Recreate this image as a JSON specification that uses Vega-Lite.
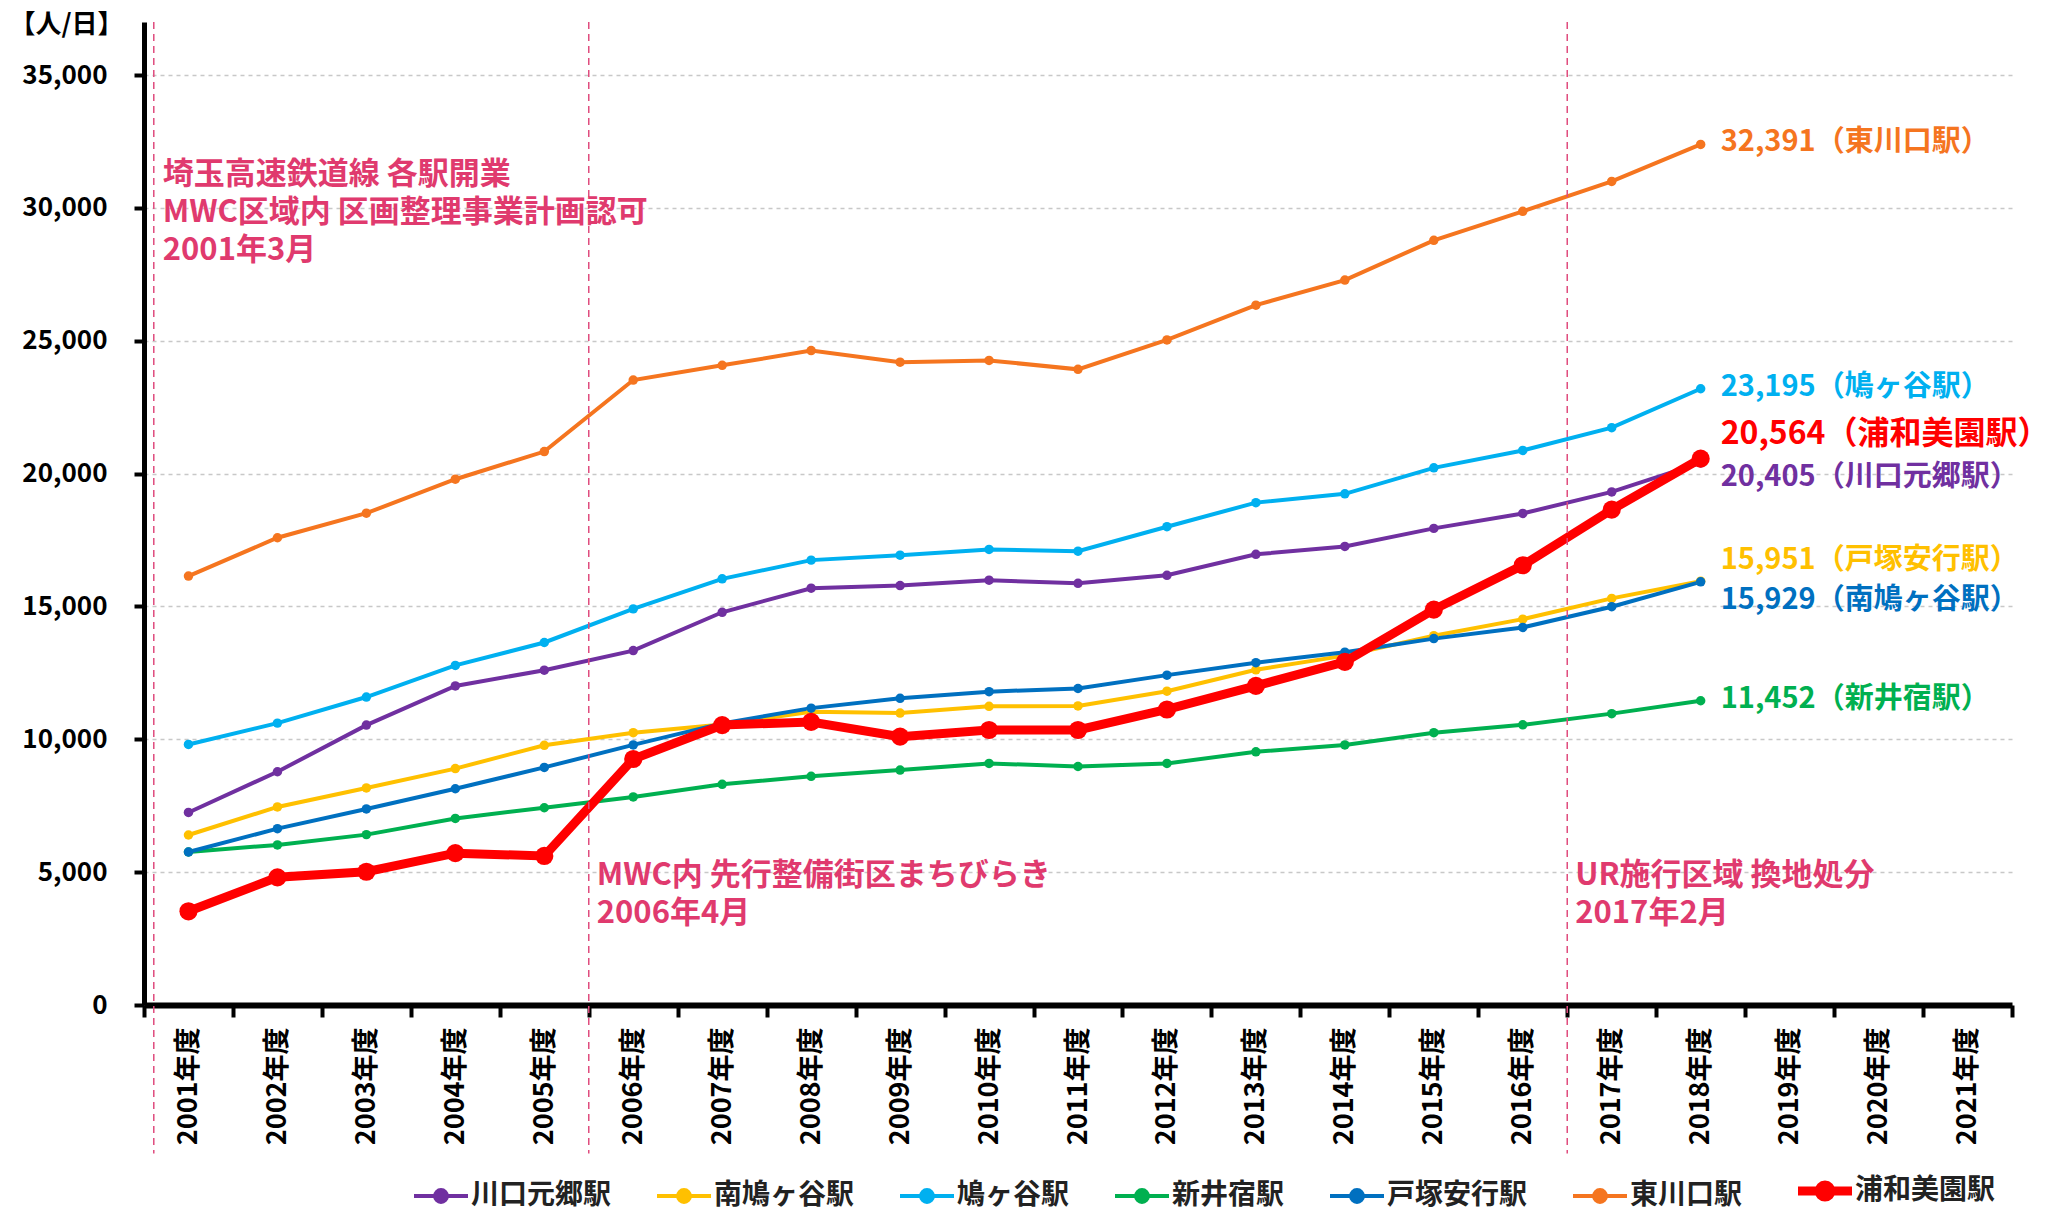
{
  "$schema": "https://vega.github.io/schema/vega-lite/v6.json",
  "width": 1868,
  "height": 983,
  "autosize": {"type": "none"},
  "padding": {"left": 144, "top": 22, "right": 39, "bottom": 209},
  "background": "white",
  "config": {"font": "Noto Sans CJK JP", "view": {"stroke": null}},
  "datasets": {
    "ridership": [
      {"station": "川口元郷駅", "year": "2001年度", "value": 7247},
      {"station": "川口元郷駅", "year": "2002年度", "value": 8779},
      {"station": "川口元郷駅", "year": "2003年度", "value": 10535},
      {"station": "川口元郷駅", "year": "2004年度", "value": 12008},
      {"station": "川口元郷駅", "year": "2005年度", "value": 12603},
      {"station": "川口元郷駅", "year": "2006年度", "value": 13340},
      {"station": "川口元郷駅", "year": "2007年度", "value": 14782},
      {"station": "川口元郷駅", "year": "2008年度", "value": 15688},
      {"station": "川口元郷駅", "year": "2009年度", "value": 15789},
      {"station": "川口元郷駅", "year": "2010年度", "value": 15990},
      {"station": "川口元郷駅", "year": "2011年度", "value": 15872},
      {"station": "川口元郷駅", "year": "2012年度", "value": 16174},
      {"station": "川口元郷駅", "year": "2013年度", "value": 16963},
      {"station": "川口元郷駅", "year": "2014年度", "value": 17260},
      {"station": "川口元郷駅", "year": "2015年度", "value": 17940},
      {"station": "川口元郷駅", "year": "2016年度", "value": 18502},
      {"station": "川口元郷駅", "year": "2017年度", "value": 19313},
      {"station": "川口元郷駅", "year": "2018年度", "value": 20405},
      {"station": "南鳩ヶ谷駅", "year": "2001年度", "value": 6398},
      {"station": "南鳩ヶ谷駅", "year": "2002年度", "value": 7455},
      {"station": "南鳩ヶ谷駅", "year": "2003年度", "value": 8169},
      {"station": "南鳩ヶ谷駅", "year": "2004年度", "value": 8898},
      {"station": "南鳩ヶ谷駅", "year": "2005年度", "value": 9776},
      {"station": "南鳩ヶ谷駅", "year": "2006年度", "value": 10250},
      {"station": "南鳩ヶ谷駅", "year": "2007年度", "value": 10560},
      {"station": "南鳩ヶ谷駅", "year": "2008年度", "value": 11040},
      {"station": "南鳩ヶ谷駅", "year": "2009年度", "value": 10990},
      {"station": "南鳩ヶ谷駅", "year": "2010年度", "value": 11242},
      {"station": "南鳩ヶ谷駅", "year": "2011年度", "value": 11258},
      {"station": "南鳩ヶ谷駅", "year": "2012年度", "value": 11812},
      {"station": "南鳩ヶ谷駅", "year": "2013年度", "value": 12617},
      {"station": "南鳩ヶ谷駅", "year": "2014年度", "value": 13150},
      {"station": "南鳩ヶ谷駅", "year": "2015年度", "value": 13900},
      {"station": "南鳩ヶ谷駅", "year": "2016年度", "value": 14524},
      {"station": "南鳩ヶ谷駅", "year": "2017年度", "value": 15304},
      {"station": "南鳩ヶ谷駅", "year": "2018年度", "value": 15951},
      {"station": "鳩ヶ谷駅", "year": "2001年度", "value": 9806},
      {"station": "鳩ヶ谷駅", "year": "2002年度", "value": 10610},
      {"station": "鳩ヶ谷駅", "year": "2003年度", "value": 11592},
      {"station": "鳩ヶ谷駅", "year": "2004年度", "value": 12782},
      {"station": "鳩ヶ谷駅", "year": "2005年度", "value": 13645},
      {"station": "鳩ヶ谷駅", "year": "2006年度", "value": 14910},
      {"station": "鳩ヶ谷駅", "year": "2007年度", "value": 16040},
      {"station": "鳩ヶ谷駅", "year": "2008年度", "value": 16745},
      {"station": "鳩ヶ谷駅", "year": "2009年度", "value": 16930},
      {"station": "鳩ヶ谷駅", "year": "2010年度", "value": 17148},
      {"station": "鳩ヶ谷駅", "year": "2011年度", "value": 17081},
      {"station": "鳩ヶ谷駅", "year": "2012年度", "value": 18003},
      {"station": "鳩ヶ谷駅", "year": "2013年度", "value": 18909},
      {"station": "鳩ヶ谷駅", "year": "2014年度", "value": 19240},
      {"station": "鳩ヶ谷駅", "year": "2015年度", "value": 20218},
      {"station": "鳩ヶ谷駅", "year": "2016年度", "value": 20874},
      {"station": "鳩ヶ谷駅", "year": "2017年度", "value": 21732},
      {"station": "鳩ヶ谷駅", "year": "2018年度", "value": 23195},
      {"station": "新井宿駅", "year": "2001年度", "value": 5759},
      {"station": "新井宿駅", "year": "2002年度", "value": 6026},
      {"station": "新井宿駅", "year": "2003年度", "value": 6413},
      {"station": "新井宿駅", "year": "2004年度", "value": 7023},
      {"station": "新井宿駅", "year": "2005年度", "value": 7425},
      {"station": "新井宿駅", "year": "2006年度", "value": 7830},
      {"station": "新井宿駅", "year": "2007年度", "value": 8305},
      {"station": "新井宿駅", "year": "2008年度", "value": 8607},
      {"station": "新井宿駅", "year": "2009年度", "value": 8842},
      {"station": "新井宿駅", "year": "2010年度", "value": 9094},
      {"station": "新井宿駅", "year": "2011年度", "value": 8977},
      {"station": "新井宿駅", "year": "2012年度", "value": 9094},
      {"station": "新井宿駅", "year": "2013年度", "value": 9530},
      {"station": "新井宿駅", "year": "2014年度", "value": 9790},
      {"station": "新井宿駅", "year": "2015年度", "value": 10250},
      {"station": "新井宿駅", "year": "2016年度", "value": 10546},
      {"station": "新井宿駅", "year": "2017年度", "value": 10967},
      {"station": "新井宿駅", "year": "2018年度", "value": 11452},
      {"station": "戸塚安行駅", "year": "2001年度", "value": 5759},
      {"station": "戸塚安行駅", "year": "2002年度", "value": 6637},
      {"station": "戸塚安行駅", "year": "2003年度", "value": 7380},
      {"station": "戸塚安行駅", "year": "2004年度", "value": 8139},
      {"station": "戸塚安行駅", "year": "2005年度", "value": 8943},
      {"station": "戸塚安行駅", "year": "2006年度", "value": 9790},
      {"station": "戸塚安行駅", "year": "2007年度", "value": 10600},
      {"station": "戸塚安行駅", "year": "2008年度", "value": 11174},
      {"station": "戸塚安行駅", "year": "2009年度", "value": 11544},
      {"station": "戸塚安行駅", "year": "2010年度", "value": 11795},
      {"station": "戸塚安行駅", "year": "2011年度", "value": 11913},
      {"station": "戸塚安行駅", "year": "2012年度", "value": 12416},
      {"station": "戸塚安行駅", "year": "2013年度", "value": 12886},
      {"station": "戸塚安行駅", "year": "2014年度", "value": 13280},
      {"station": "戸塚安行駅", "year": "2015年度", "value": 13791},
      {"station": "戸塚安行駅", "year": "2016年度", "value": 14212},
      {"station": "戸塚安行駅", "year": "2017年度", "value": 14992},
      {"station": "戸塚安行駅", "year": "2018年度", "value": 15929},
      {"station": "東川口駅", "year": "2001年度", "value": 16145},
      {"station": "東川口駅", "year": "2002年度", "value": 17588},
      {"station": "東川口駅", "year": "2003年度", "value": 18511},
      {"station": "東川口駅", "year": "2004年度", "value": 19790},
      {"station": "東川口駅", "year": "2005年度", "value": 20832},
      {"station": "東川口駅", "year": "2006年度", "value": 23523},
      {"station": "東川口駅", "year": "2007年度", "value": 24077},
      {"station": "東川口駅", "year": "2008年度", "value": 24631},
      {"station": "東川口駅", "year": "2009年度", "value": 24195},
      {"station": "東川口駅", "year": "2010年度", "value": 24262},
      {"station": "東川口駅", "year": "2011年度", "value": 23926},
      {"station": "東川口駅", "year": "2012年度", "value": 25034},
      {"station": "東川口駅", "year": "2013年度", "value": 26342},
      {"station": "東川口駅", "year": "2014年度", "value": 27285},
      {"station": "東川口駅", "year": "2015年度", "value": 28783},
      {"station": "東川口駅", "year": "2016年度", "value": 29875},
      {"station": "東川口駅", "year": "2017年度", "value": 30998},
      {"station": "東川口駅", "year": "2018年度", "value": 32391},
      {"station": "浦和美園駅", "year": "2001年度", "value": 3527},
      {"station": "浦和美園駅", "year": "2002年度", "value": 4806},
      {"station": "浦和美園駅", "year": "2003年度", "value": 5015},
      {"station": "浦和美園駅", "year": "2004年度", "value": 5714},
      {"station": "浦和美園駅", "year": "2005年度", "value": 5610},
      {"station": "浦和美園駅", "year": "2006年度", "value": 9260},
      {"station": "浦和美園駅", "year": "2007年度", "value": 10537},
      {"station": "浦和美園駅", "year": "2008年度", "value": 10654},
      {"station": "浦和美園駅", "year": "2009年度", "value": 10101},
      {"station": "浦和美園駅", "year": "2010年度", "value": 10352},
      {"station": "浦和美園駅", "year": "2011年度", "value": 10352},
      {"station": "浦和美園駅", "year": "2012年度", "value": 11124},
      {"station": "浦和美園駅", "year": "2013年度", "value": 12013},
      {"station": "浦和美園駅", "year": "2014年度", "value": 12918},
      {"station": "浦和美園駅", "year": "2015年度", "value": 14883},
      {"station": "浦和美園駅", "year": "2016年度", "value": 16552},
      {"station": "浦和美園駅", "year": "2017年度", "value": 18643},
      {"station": "浦和美園駅", "year": "2018年度", "value": 20564}
    ],
    "events": [
      {"year": "2001年度", "note": "埼玉高速鉄道線 各駅開業\nMWC区域内 区画整理事業計画認可\n2001年3月", "level": 30900},
      {"year": "2006年度", "note": "MWC内 先行整備街区まちびらき\n2006年4月", "level": 4500},
      {"year": "2017年度", "note": "UR施行区域 換地処分\n2017年2月", "level": 4500}
    ],
    "endLabels": [
      {"station": "東川口駅", "year": "2018年度", "value": 32391, "label": "32,391（東川口駅）"},
      {"station": "鳩ヶ谷駅", "year": "2018年度", "value": 23195, "label": "23,195（鳩ヶ谷駅）"},
      {"station": "浦和美園駅", "year": "2018年度", "value": 20564, "label": "20,564（浦和美園駅）"},
      {"station": "川口元郷駅", "year": "2018年度", "value": 20405, "label": "20,405（川口元郷駅）"},
      {"station": "南鳩ヶ谷駅", "year": "2018年度", "value": 15951, "label": "15,951（戸塚安行駅）"},
      {"station": "戸塚安行駅", "year": "2018年度", "value": 15929, "label": "15,929（南鳩ヶ谷駅）"},
      {"station": "新井宿駅", "year": "2018年度", "value": 11452, "label": "11,452（新井宿駅）"}
    ]
  },
  "layer": [
    {
      "data": {"name": "ridership"},
      "transform": [{"filter": "datum.station !== '浦和美園駅'"}],
      "mark": {"type": "line", "strokeWidth": 4, "point": {"filled": true, "size": 90}},
      "encoding": {
        "x": {
          "field": "year", "type": "nominal",
          "scale": {"type": "band", "domain": ["2001年度","2002年度","2003年度","2004年度","2005年度","2006年度","2007年度","2008年度","2009年度","2010年度","2011年度","2012年度","2013年度","2014年度","2015年度","2016年度","2017年度","2018年度","2019年度","2020年度","2021年度"], "paddingInner": 0, "paddingOuter": 0},
          "axis": {"title": null, "labelAngle": 270, "labelFontSize": 27, "labelFontWeight": "bold", "labelColor": "black", "labelPadding": 10, "tickBand": "extent", "tickSize": 12, "tickWidth": 4, "tickColor": "black", "domainWidth": 6, "domainColor": "black", "grid": false}
        },
        "y": {
          "field": "value", "type": "quantitative",
          "scale": {"domain": [0, 37000], "nice": false, "zero": true},
          "axis": {"title": "【人/日】", "titleAngle": 0, "titleAlign": "left", "titleBaseline": "middle", "titleX": -135, "titleY": 2, "titleFontSize": 26, "titleFontWeight": "bold", "titleColor": "black", "values": [0,5000,10000,15000,20000,25000,30000,35000], "format": ",.0f", "labelFontSize": 26, "labelFontWeight": "bold", "labelColor": "black", "labelPadding": 27, "tickSize": 10, "tickWidth": 4, "tickColor": "black", "domainWidth": 5, "domainColor": "black", "grid": true, "gridDash": [4, 4], "gridColor": "#c8c8c8", "gridWidth": 1.5}
        },
        "color": {
          "field": "station", "type": "nominal",
          "scale": {"domain": ["川口元郷駅","南鳩ヶ谷駅","鳩ヶ谷駅","新井宿駅","戸塚安行駅","東川口駅","浦和美園駅"], "range": ["#7030A0","#FFC000","#00B0F0","#00B050","#0070C0","#F5751F","#FF0000"]},
          "legend": {
            "title": null, "orient": "none", "legendX": 283, "legendY": 1155, "direction": "horizontal",
            "symbolType": "M-1,0L1,0M0.22,0A0.22,0.22,0,1,1,-0.22,0A0.22,0.22,0,1,1,0.22,0Z",
            "symbolSize": 2916, "symbolStrokeWidth": 4,
            "labelFontSize": 28, "labelFontWeight": "bold", "labelColor": "#222222", "labelOffset": 16, "columnPadding": 37, "labelLimit": 400,
            "encode": {"symbols": {"update": {"fill": {"scale": "color", "field": "value"}, "stroke": {"scale": "color", "field": "value"}, "strokeWidth": {"signal": "datum.value === '浦和美園駅' ? 9 : 4"}}}}
          }
        }
      }
    },
    {
      "data": {"name": "ridership"},
      "transform": [{"filter": "datum.station === '浦和美園駅'"}],
      "mark": {"type": "line", "strokeWidth": 9, "point": {"filled": true, "size": 330}},
      "encoding": {
        "x": {"field": "year", "type": "nominal"},
        "y": {"field": "value", "type": "quantitative"},
        "color": {"field": "station", "type": "nominal"}
      }
    },
    {
      "data": {"name": "events"},
      "transform": [{"filter": "datum.year === '2001年度'"}],
      "mark": {"type": "rule", "stroke": "#E04C7E", "strokeWidth": 1.5, "strokeDash": [7, 5]},
      "encoding": {
        "x": {"field": "year", "type": "nominal", "bandPosition": 0.11},
        "y": {"datum": 37000, "type": "quantitative"},
        "y2": {"datum": -5590}
      }
    },
    {
      "data": {"name": "events"},
      "transform": [{"filter": "datum.year !== '2001年度'"}],
      "mark": {"type": "rule", "stroke": "#E04C7E", "strokeWidth": 1.5, "strokeDash": [7, 5]},
      "encoding": {
        "x": {"field": "year", "type": "nominal", "bandPosition": 0},
        "y": {"datum": 37000, "type": "quantitative"},
        "y2": {"datum": -5590}
      }
    },
    {
      "data": {"name": "events"},
      "transform": [{"filter": "datum.year === '2001年度'"}],
      "mark": {"type": "text", "align": "left", "baseline": "alphabetic", "dx": 9, "fontSize": 31, "fontWeight": "bold", "lineHeight": 38, "lineBreak": "\n", "fill": "#E03A6E"},
      "encoding": {
        "x": {"field": "year", "type": "nominal", "bandPosition": 0.11},
        "y": {"field": "level", "type": "quantitative"},
        "text": {"field": "note"}
      }
    },
    {
      "data": {"name": "events"},
      "transform": [{"filter": "datum.year !== '2001年度'"}],
      "mark": {"type": "text", "align": "left", "baseline": "alphabetic", "dx": 8, "fontSize": 31, "fontWeight": "bold", "lineHeight": 38, "lineBreak": "\n", "fill": "#E03A6E"},
      "encoding": {
        "x": {"field": "year", "type": "nominal", "bandPosition": 0},
        "y": {"field": "level", "type": "quantitative"},
        "text": {"field": "note"}
      }
    },
    {
      "data": {"name": "endLabels"},
      "transform": [{"filter": "datum.station === '東川口駅' || datum.station === '鳩ヶ谷駅' || datum.station === '新井宿駅'"}],
      "mark": {"type": "text", "align": "left", "baseline": "middle", "dx": 20, "dy": -2, "fontSize": 29, "fontWeight": "bold"},
      "encoding": {
        "x": {"field": "year", "type": "nominal"},
        "y": {"field": "value", "type": "quantitative"},
        "text": {"field": "label"},
        "color": {"field": "station", "type": "nominal", "legend": null}
      }
    },
    {
      "data": {"name": "endLabels"},
      "transform": [{"filter": "datum.station === '浦和美園駅'"}],
      "mark": {"type": "text", "align": "left", "baseline": "middle", "dx": 20, "dy": -25, "fontSize": 32, "fontWeight": "bold"},
      "encoding": {
        "x": {"field": "year", "type": "nominal"},
        "y": {"field": "value", "type": "quantitative"},
        "text": {"field": "label"},
        "color": {"field": "station", "type": "nominal", "legend": null}
      }
    },
    {
      "data": {"name": "endLabels"},
      "transform": [{"filter": "datum.station === '川口元郷駅'"}],
      "mark": {"type": "text", "align": "left", "baseline": "middle", "dx": 20, "dy": 14, "fontSize": 29, "fontWeight": "bold"},
      "encoding": {
        "x": {"field": "year", "type": "nominal"},
        "y": {"field": "value", "type": "quantitative"},
        "text": {"field": "label"},
        "color": {"field": "station", "type": "nominal", "legend": null}
      }
    },
    {
      "data": {"name": "endLabels"},
      "transform": [{"filter": "datum.station === '南鳩ヶ谷駅'"}],
      "mark": {"type": "text", "align": "left", "baseline": "middle", "dx": 20, "dy": -21, "fontSize": 29, "fontWeight": "bold"},
      "encoding": {
        "x": {"field": "year", "type": "nominal"},
        "y": {"field": "value", "type": "quantitative"},
        "text": {"field": "label"},
        "color": {"field": "station", "type": "nominal", "legend": null}
      }
    },
    {
      "data": {"name": "endLabels"},
      "transform": [{"filter": "datum.station === '戸塚安行駅'"}],
      "mark": {"type": "text", "align": "left", "baseline": "middle", "dx": 20, "dy": 18, "fontSize": 29, "fontWeight": "bold"},
      "encoding": {
        "x": {"field": "year", "type": "nominal"},
        "y": {"field": "value", "type": "quantitative"},
        "text": {"field": "label"},
        "color": {"field": "station", "type": "nominal", "legend": null}
      }
    }
  ]
}
